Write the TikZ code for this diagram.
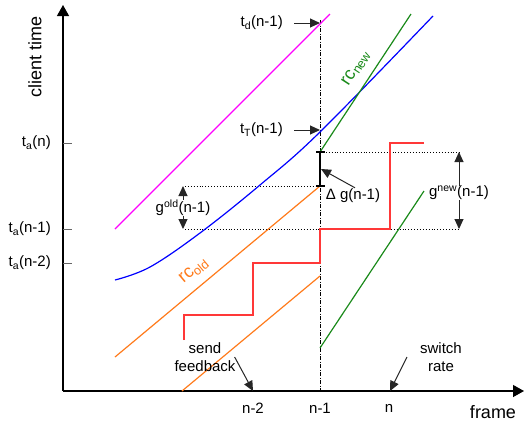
\documentclass[tikz,border=0pt]{standalone}
\usepackage{fontspec}
\setmainfont{Liberation Sans}
\usetikzlibrary{arrows.meta,positioning}
\definecolor{magline}{HTML}{FF00FF}
\definecolor{blueline}{HTML}{0000FF}
\definecolor{greenline}{HTML}{1A8A1A}
\definecolor{orangeline}{HTML}{FF7A1A}
\definecolor{redline}{HTML}{FF3838}

\begin{document}
\begin{tikzpicture}[x=1pt,y=-1pt,>={Triangle[length=10pt,width=9pt]}]
\tikzset{lbl/.style={font=\fontsize{15}{18}\selectfont,inner sep=1pt,align=center},
  biglbl/.style={font=\fontsize{18}{20}\selectfont,inner sep=1pt},
  axis/.style={line width=1.3pt,-{Triangle[length=11pt,width=12pt]}},
  guide/.style={dotted,line width=0.9pt},
  pointer/.style={->,line width=1pt,black!85},
  curve/.style={line width=1.2pt}}
\useasboundingbox (0,0) rectangle (525,424);
% axes
\coordinate (origin) at (63,391);
\draw[axis] (origin) -- (63,5);
\draw[axis] (origin) -- (524,391);
\node[biglbl,rotate=90] (ylabel) at (35,57) {client time};
\node[biglbl] (xlabel) at (493,412) {frame};
% ticks on client time axis
\foreach \yy/\nm/\txt in {143/tan/{t\textsubscript{a}(n)},229/tanm/{t\textsubscript{a}(n-1)},263/tanmm/{t\textsubscript{a}(n-2)}}{
  \draw[black!60,line width=0.9pt] (63,\yy) -- (72,\yy);
  \node[lbl,anchor=east] (\nm) at (52,\yy) {\txt};
}
% frame marks
\node[lbl] (fn2) at (253,408) {n-2};
\node[lbl] (fn1) at (320,408) {n-1};
\node[lbl] (fn) at (389,408) {n};
\coordinate (fb) at (253,391);
\coordinate (sw) at (390,391);
\coordinate (n1top) at (320,20);
\draw[dash pattern=on 4pt off 1.5pt on 1pt off 1.5pt,line width=0.8pt] (n1top) -- (320,391);
% guide lines
\draw[guide] (185,186) -- (320,186);
\draw[guide] (185,229) -- (460,229);
\draw[guide] (320,152) -- (460,152);
% curves
\draw[curve,magline] (115,229) -- (330,14);
\draw[curve,blueline] plot[smooth,tension=0.6] coordinates {(115,280) (150,267) (200,233) (260,185) (320,132) (433,16)};
\draw[curve,greenline] (320,152) -- (411,14);
\draw[curve,greenline] (320,348) -- (424,191);
\draw[curve,orangeline] (115,357) -- (320,186);
\draw[curve,orangeline] (182,391) -- (320,276);
\draw[line width=1.6pt,redline] (184,340) -- (184,315) -- (253,315) -- (253,263) -- (320,263)
  -- (320,229) -- (390,229) -- (390,143) -- (424,143);
\node[biglbl,greenline,rotate=57] (rcnew) at (356,68) {rc\textsubscript{new}};
\node[biglbl,orangeline,rotate=40] (rcold) at (194,271) {rc\textsubscript{old}};
% gap between the curves
\draw[line width=1.8pt] (320,152) -- (320,186);
\draw[line width=1.2pt] (316,152) -- (325,152) (316,186) -- (325,186);
\coordinate (dgmid) at (321,169);
\node[lbl] (dg) at (353,196) {Δ g(n-1)};
\draw[pointer] ([xshift=2pt]dg.north) -- (dgmid);
\node[lbl,fill=white,inner sep=0pt] (gold) at (183,208) {g\textsuperscript{old}(n-1)};
\draw[pointer] (gold.north) -- (183,186);
\draw[pointer] (gold.south) -- (183,229);
\node[lbl,fill=white,inner sep=0pt] (gnew) at (459,193) {g\textsuperscript{new}(n-1)};
\draw[pointer] (gnew.north) -- (459,152);
\draw[pointer] (gnew.south) -- (459,229);
% marks on dash dot line
\node[lbl,anchor=east] (td) at (284,23) {t\textsubscript{d}(n-1)};
\draw[pointer] ([xshift=10pt]td.east) -- (320,23);
\node[lbl,anchor=east] (tt) at (284,130) {t\textsubscript{T}(n-1)};
\draw[pointer] ([xshift=10pt]tt.east) -- (320,130);
% events
\node[lbl] (sendfb) at (205,357) {send\\feedback};
\draw[pointer] ([xshift=-2pt]sendfb.east) -- (fb);
\node[lbl] (swr) at (441,357) {switch\\rate};
\draw[pointer] ([xshift=-12pt]swr.west) -- (sw);
\end{tikzpicture}
\end{document}
